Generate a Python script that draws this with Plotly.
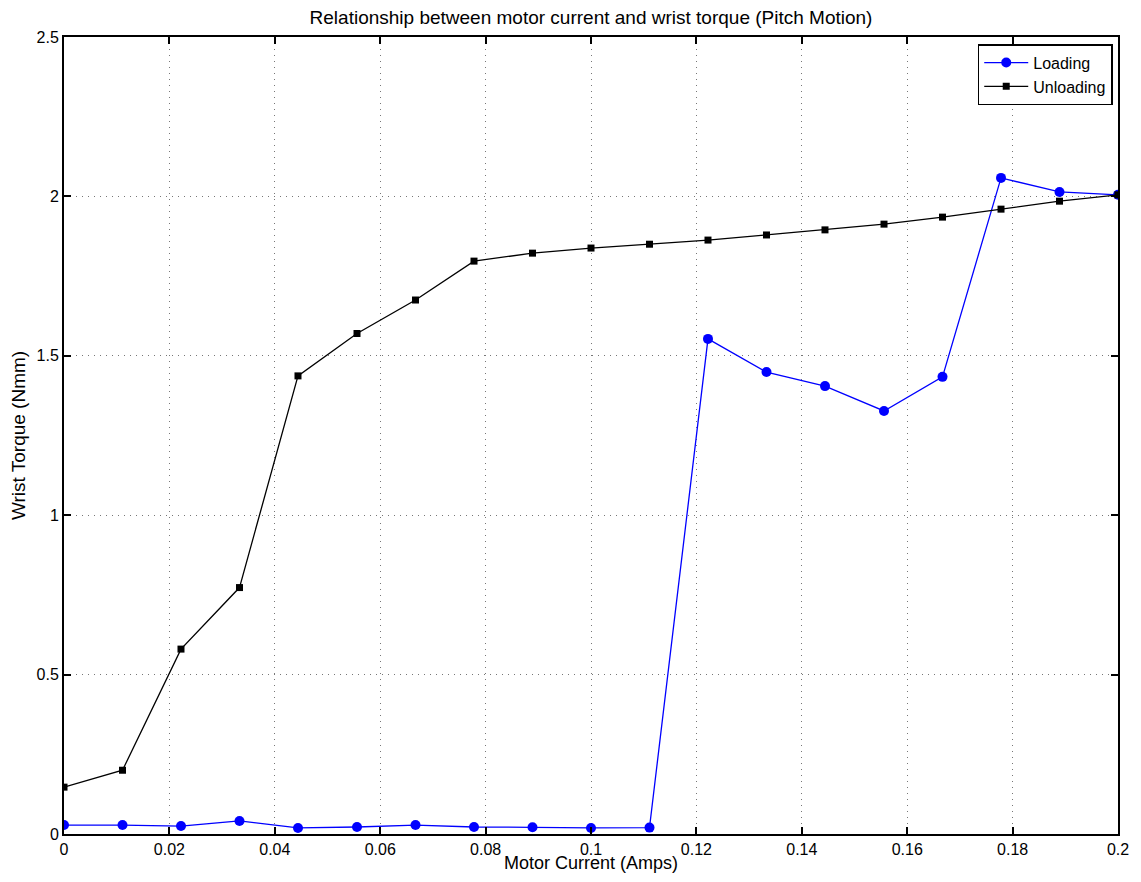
import plotly.graph_objects as go

current = [0, 0.0111, 0.0222, 0.0333, 0.0444, 0.0556, 0.0667, 0.0778, 0.0889, 0.1,
           0.1111, 0.1222, 0.1333, 0.1444, 0.1556, 0.1667, 0.1778, 0.1889, 0.2]
loading = [0.028, 0.028, 0.025, 0.041, 0.019, 0.022, 0.028, 0.022, 0.021, 0.019,
           0.020, 1.553, 1.449, 1.405, 1.327, 1.434, 2.058, 2.014, 2.005]
unloading = [0.147, 0.200, 0.580, 0.773, 1.437, 1.570, 1.675, 1.797, 1.822, 1.838,
             1.850, 1.863, 1.879, 1.895, 1.913, 1.935, 1.960, 1.985, 2.005]

xticks = [0, 0.02, 0.04, 0.06, 0.08, 0.1, 0.12, 0.14, 0.16, 0.18, 0.2]
xticklabels = ["0", "0.02", "0.04", "0.06", "0.08", "0.1", "0.12", "0.14", "0.16", "0.18", "0.2"]
yticks = [0, 0.5, 1, 1.5, 2, 2.5]
yticklabels = ["0", "0.5", "1", "1.5", "2", "2.5"]

fig = go.Figure()
fig.add_trace(go.Scatter(x=current, y=loading, mode="lines+markers", name="Loading",
                         line=dict(color="#0000ff", width=1.3),
                         marker=dict(symbol="circle", size=10, color="#0000ff")))
fig.add_trace(go.Scatter(x=current, y=unloading, mode="lines+markers", name="Unloading",
                         line=dict(color="#000000", width=1.3),
                         marker=dict(symbol="square", size=7, color="#000000")))

axis_common = dict(showline=True, linecolor="black", linewidth=2, mirror="ticks",
                   ticks="inside", ticklen=7, tickwidth=1.5, tickcolor="black",
                   showgrid=True, gridcolor="#777777", griddash="1px,5px", gridwidth=1,
                   zeroline=False, automargin=False, tickfont=dict(size=16, color="black"))

fig.update_xaxes(range=[0, 0.2], tickvals=xticks, ticktext=xticklabels, ticklabelstandoff=0,
                 **axis_common)
fig.update_yaxes(range=[0, 2.5], tickvals=yticks, ticktext=yticklabels,
                 title=dict(text="Wrist Torque (Nmm)", font=dict(size=19, color="black"), standoff=9),
                 **axis_common)

fig.add_annotation(text="Motor Current (Amps)", xref="paper", yref="paper",
                   x=0.5, y=-0.0364, xanchor="center", yanchor="middle",
                   showarrow=False, borderpad=0, font=dict(size=18, color="black"))

fig.update_layout(
    width=1125, height=866,
    margin=dict(l=56, r=15, t=29, b=40),
    paper_bgcolor="white", plot_bgcolor="white",
    font=dict(family="Liberation Sans, Arial, sans-serif", color="black"),
    title=dict(text="Relationship between motor current and wrist torque (Pitch Motion)",
               x=0.5, xref="paper", xanchor="center", y=0.989, yanchor="middle",
               font=dict(size=19, color="black"), automargin=False),
    legend=dict(x=0.995, y=0.991, xanchor="right", yanchor="top",
                bordercolor="black", borderwidth=1.5, bgcolor="white",
                font=dict(size=16, color="black"), tracegroupgap=0,
                itemwidth=44),
    showlegend=True,
)

fig.write_html("out.html")
